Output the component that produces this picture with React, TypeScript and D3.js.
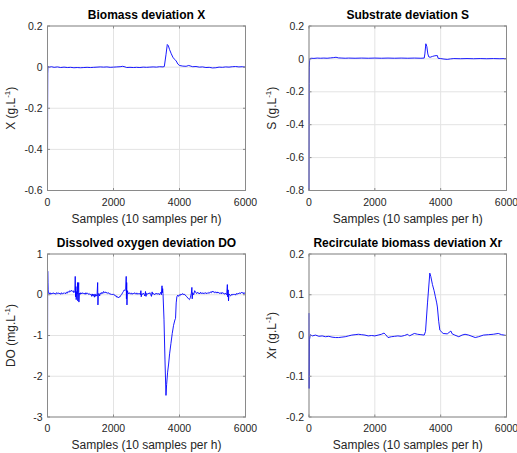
import {useEffect, useRef} from "react";
import * as d3 from "d3";

type Pt = [number, number];

// samples axis
const xTicks = [0, 2000, 4000, 6000];

// y ticks of each panel
const biomassTicks = [-0.6, -0.4, -0.2, 0, 0.2];
const substrateTicks = [-0.8, -0.6, -0.4, -0.2, 0, 0.2];
const oxygenTicks = [-3, -2, -1, 0, 1];
const recircTicks = [-0.2, -0.1, 0, 0.1, 0.2];

// deviation X (g/L) vs sample
const biomass: Pt[] = [
    [0, -0.5], [4, -0.2], [8, -0.03], [15, 0.002], [60, 0], [120, 0.002], [200, -0.001], [300, 0.001],
    [400, -0.002], [500, 0], [600, -0.002], [700, -0.001], [800, -0.003], [900, -0.002], [1000, -0.003],
    [1100, -0.002], [1200, -0.001], [1300, -0.002], [1400, -0.001], [1500, 0], [1600, 0.001], [1700, 0],
    [1800, 0.001], [1900, -0.001], [2000, 0], [2100, 0.001], [2200, 0.002], [2280, 0.004], [2350, 0.001],
    [2400, -0.002], [2500, -0.001], [2600, -0.002], [2700, -0.001], [2800, -0.002], [2900, 0], [3000, -0.001],
    [3100, 0], [3200, 0.001], [3300, 0], [3400, 0.002], [3500, 0.001], [3540, 0.003], [3590, 0.06],
    [3630, 0.11], [3660, 0.105], [3700, 0.085], [3750, 0.065], [3800, 0.048], [3850, 0.038], [3900, 0.03],
    [3950, 0.015], [4000, 0.008], [4100, 0.005], [4200, 0.004], [4280, 0.008], [4320, 0.006], [4400, 0.002],
    [4500, 0.003], [4600, 0], [4700, 0.001], [4800, -0.002], [4900, -0.001], [5000, -0.004], [5100, -0.003],
    [5200, 0], [5300, -0.001], [5400, 0.001], [5500, 0], [5600, 0.002], [5700, 0.003], [5800, 0.001],
    [5900, 0.002], [6000, 0]
];

// deviation S (g/L)
const substrate: Pt[] = [
    [0, -0.8], [3, -0.4], [6, -0.15], [10, -0.05], [18, -0.01], [30, 0.002], [60, 0.004], [150, 0.003],
    [250, 0.005], [350, 0.004], [450, 0.005], [550, 0.004], [650, 0.006], [750, 0.008], [820, 0.01],
    [900, 0.006], [1000, 0.005], [1100, 0.004], [1200, 0.005], [1400, 0.004], [1600, 0.005], [1800, 0.004],
    [2000, 0.005], [2200, 0.004], [2400, 0.005], [2600, 0.004], [2800, 0.005], [3000, 0.004], [3200, 0.005],
    [3400, 0.004], [3500, 0.005], [3520, 0.03], [3550, 0.092], [3580, 0.075], [3610, 0.03], [3640, 0.012],
    [3680, 0.01], [3750, 0.015], [3800, 0.018], [3860, 0.02], [3900, 0.02], [3920, 0.004], [4000, 0.002],
    [4100, -0.001], [4200, -0.003], [4300, 0], [4400, 0.002], [4600, 0.001], [4800, 0.002], [5000, 0.001],
    [5200, 0.002], [5400, 0.001], [5600, 0.002], [5800, 0.001], [6000, 0.002]
];

// deviation DO (mg/L)
const oxygen: Pt[] = [
    [0, -2.0], [6, 0.58], [12, 0.3], [18, 0.12], [25, 0.06], [50, 0.02], [75, 0.05], [100, 0.01], [125, 0.04],
    [150, 0.02], [175, 0.05], [200, 0.02], [225, 0.04], [250, 0.01], [275, 0.05], [300, 0.03], [325, 0.05],
    [350, 0.02], [375, 0.04], [400, 0.01], [425, 0.05], [450, 0.02], [475, 0.04], [500, 0.03], [525, 0.05],
    [550, 0.02], [575, 0.06], [600, 0.04], [625, 0.08], [650, 0.06], [675, 0.1], [700, 0.08], [725, 0.11],
    [750, 0.08], [775, 0.1], [800, 0.05], [815, 0.09], [830, 0.1], [840, 0.45], [850, -0.05], [860, 0.2],
    [870, -0.12], [885, 0.08], [900, 0.02], [910, 0.3], [918, -0.15], [930, 0.05], [945, 0.3], [952, -0.18],
    [965, 0.04], [990, 0.01], [1010, 0.05], [1040, 0.02], [1065, 0.05], [1090, 0.02], [1115, 0.04],
    [1140, 0.01], [1165, 0.05], [1190, 0.02], [1215, 0.04], [1240, 0.01], [1265, 0.03], [1290, 0.0],
    [1315, 0.02], [1340, -0.04], [1360, 0.02], [1380, -0.03], [1400, 0.01], [1420, -0.06], [1440, 0.02],
    [1460, -0.04], [1480, 0.0], [1500, -0.03], [1520, 0.3], [1528, -0.25], [1540, 0.02], [1560, 0.03],
    [1580, -0.03], [1600, 0.04], [1625, 0.02], [1650, 0.06], [1675, 0.03], [1700, 0.08], [1725, 0.05],
    [1750, 0.07], [1775, 0.04], [1800, 0.06], [1825, 0.03], [1850, 0.05], [1875, 0.02], [1900, 0.03],
    [1925, 0.0], [1950, 0.02], [1975, 0.0], [2000, 0.02], [2025, -0.01], [2050, -0.03], [2075, -0.02],
    [2100, -0.06], [2125, -0.05], [2150, -0.08], [2175, -0.05], [2200, -0.05], [2225, -0.01], [2250, 0.01],
    [2275, 0.05], [2300, 0.08], [2325, 0.12], [2350, 0.1], [2370, 0.13], [2385, 0.45], [2392, -0.1],
    [2400, 0.3], [2408, -0.25], [2420, 0.1], [2440, 0.05], [2465, 0.02], [2490, 0.05], [2515, 0.02],
    [2540, 0.04], [2565, 0.01], [2590, 0.04], [2615, 0.02], [2640, 0.05], [2665, 0.02], [2690, 0.04],
    [2715, 0.01], [2740, 0.04], [2765, 0.02], [2790, 0.03], [2815, 0.0], [2830, 0.1], [2840, -0.05],
    [2860, 0.03], [2885, 0.01], [2910, 0.04], [2935, 0.0], [2950, -0.03], [2970, 0.08], [2985, -0.04],
    [3000, 0.03], [3025, 0.01], [3050, 0.04], [3075, 0.02], [3100, 0.05], [3125, 0.01], [3150, -0.04],
    [3170, 0.07], [3190, 0.01], [3215, 0.03], [3240, 0.0], [3265, 0.03], [3290, 0.01], [3315, 0.04],
    [3340, 0.01], [3365, 0.03], [3390, 0.0], [3410, 0.03], [3430, 0.06], [3450, 0.0], [3470, 0.22],
    [3480, 0.05], [3490, 0.15], [3500, 0.03], [3530, -0.6], [3560, -1.6], [3590, -2.47], [3610, -2.2],
    [3640, -1.9], [3670, -1.7], [3700, -1.45], [3740, -1.2], [3780, -0.95], [3820, -0.75], [3860, -0.62],
    [3880, -0.58], [3900, -0.2], [3920, -0.05], [3945, -0.01], [3970, -0.04], [3995, 0.0], [4020, -0.02],
    [4045, 0.02], [4070, 0.0], [4095, 0.03], [4120, 0.0], [4145, 0.02], [4170, -0.01], [4200, -0.03],
    [4225, -0.05], [4250, -0.08], [4275, -0.1], [4300, -0.12], [4330, -0.07], [4360, 0.04], [4375, 0.18],
    [4385, -0.1], [4400, 0.05], [4430, 0.0], [4460, 0.1], [4490, 0.06], [4515, 0.03], [4540, 0.06],
    [4565, 0.03], [4590, 0.05], [4615, 0.02], [4640, 0.06], [4665, 0.03], [4690, 0.05], [4715, 0.02],
    [4740, 0.05], [4765, 0.03], [4790, 0.05], [4815, 0.02], [4840, 0.05], [4865, 0.03], [4890, 0.06],
    [4915, 0.04], [4940, 0.07], [4965, 0.05], [4990, 0.09], [5015, 0.06], [5040, 0.08], [5065, 0.05],
    [5090, 0.07], [5115, 0.04], [5140, 0.07], [5165, 0.04], [5190, 0.06], [5215, 0.03], [5240, 0.05],
    [5265, 0.02], [5290, 0.06], [5315, 0.03], [5340, 0.04], [5365, 0.01], [5390, 0.04], [5415, 0.01],
    [5430, 0.0], [5450, 0.25], [5460, -0.05], [5475, 0.12], [5485, -0.15], [5500, 0.02], [5525, -0.01],
    [5550, -0.03], [5575, 0.01], [5600, -0.01], [5625, 0.02], [5650, 0.0], [5675, 0.02], [5700, -0.01],
    [5725, 0.03], [5750, 0.01], [5775, 0.04], [5800, 0.02], [5825, 0.05], [5850, 0.03], [5875, 0.06],
    [5900, 0.04], [5925, 0.06], [5950, 0.02], [5975, 0.05], [6000, 0.04]
];

// deviation Xr (g/L)
const recirc: Pt[] = [
    [0, 0.055], [3, -0.13], [15, -0.01], [40, 0.002], [100, -0.001], [200, 0.001], [300, -0.002],
    [400, -0.001], [500, -0.003], [600, -0.002], [700, -0.004], [800, -0.005], [900, -0.005], [1000, -0.004],
    [1100, -0.003], [1200, -0.001], [1300, 0.001], [1400, 0.002], [1500, 0.003], [1600, 0.002], [1700, 0.001],
    [1800, -0.001], [1900, 0], [2000, -0.001], [2100, 0.001], [2200, 0.003], [2280, 0.006], [2330, 0.002],
    [2400, -0.005], [2500, -0.003], [2600, -0.002], [2700, -0.001], [2800, -0.002], [2900, 0], [3000, 0.003],
    [3050, -0.001], [3100, 0.001], [3200, 0.005], [3300, 0.003], [3400, 0.002], [3500, 0.001], [3540, 0.01],
    [3600, 0.08], [3670, 0.153], [3700, 0.145], [3750, 0.125], [3800, 0.11], [3840, 0.095], [3880, 0.08],
    [3900, 0.07], [3940, 0.035], [3975, 0.013], [4075, 0.005], [4200, 0.004], [4310, 0.011], [4350, 0.004],
    [4430, 0.001], [4550, -0.003], [4650, 0.001], [4740, 0.003], [4850, 0.001], [4950, -0.002],
    [5050, -0.005], [5150, -0.003], [5300, 0.001], [5450, 0.002], [5600, 0.003], [5750, 0.005],
    [5850, 0.002], [6000, 0]
];

const font = "'Liberation Sans', Arial, Helvetica, sans-serif";
const ink = "#262626";

const L = {left: 47.5, right: 245.5}, R = {left: 309, right: 506.5};
const T = {top: 26, bottom: 190.5}, B = {top: 254, bottom: 417};

const panels = [
    {title: "Biomass deviation X", name: "X", unit: "g", ticks: biomassTicks, data: biomass, ...L, ...T},
    {title: "Substrate deviation S", name: "S", unit: "g", ticks: substrateTicks, data: substrate, ...R, ...T},
    {title: "Dissolved oxygen deviation DO", name: "DO", unit: "mg", ticks: oxygenTicks, data: oxygen, ...L, ...B},
    {title: "Recirculate biomass deviation Xr", name: "Xr", unit: "g", ticks: recircTicks, data: recirc, ...R, ...B},
];

function drawPanel(svg: any, p: any) {
    const g = svg.append("g");
    const x = d3.scaleLinear().domain([0, 6000]).range([p.left, p.right]);
    const y = d3.scaleLinear().domain([p.ticks[0], p.ticks[p.ticks.length - 1]]).range([p.bottom, p.top]);

    g.append("rect")
        .attr("x", p.left).attr("y", p.top)
        .attr("width", p.right - p.left).attr("height", p.bottom - p.top)
        .attr("fill", "#fff");

    // grid
    g.selectAll(".gx").data(xTicks).enter().append("line")
        .attr("x1", (d: number) => x(d)).attr("x2", (d: number) => x(d))
        .attr("y1", p.top).attr("y2", p.bottom)
        .attr("stroke", "#e3e3e3").attr("stroke-width", 1);
    g.selectAll(".gy").data(p.ticks).enter().append("line")
        .attr("x1", p.left).attr("x2", p.right)
        .attr("y1", (d: number) => y(d)).attr("y2", (d: number) => y(d))
        .attr("stroke", "#e3e3e3").attr("stroke-width", 1);

    // series
    const line = d3.line<Pt>().x(d => x(d[0])).y(d => y(d[1]));
    g.append("path")
        .attr("d", line(p.data))
        .attr("fill", "none")
        .attr("stroke", "#0000ff")
        .attr("stroke-width", 0.9)
        .attr("stroke-linejoin", "round");

    // box + inward ticks on all sides
    g.append("rect")
        .attr("x", p.left).attr("y", p.top)
        .attr("width", p.right - p.left).attr("height", p.bottom - p.top)
        .attr("fill", "none").attr("stroke", "#8a8a8a").attr("stroke-width", 1);
    const tl = 2.5;
    xTicks.forEach(t => {
        g.append("line").attr("x1", x(t)).attr("x2", x(t)).attr("y1", p.bottom).attr("y2", p.bottom - tl).attr("stroke", "#8a8a8a");
        g.append("line").attr("x1", x(t)).attr("x2", x(t)).attr("y1", p.top).attr("y2", p.top + tl).attr("stroke", "#8a8a8a");
    });
    p.ticks.forEach((t: number) => {
        g.append("line").attr("x1", p.left).attr("x2", p.left + tl).attr("y1", y(t)).attr("y2", y(t)).attr("stroke", "#8a8a8a");
        g.append("line").attr("x1", p.right).attr("x2", p.right - tl).attr("y1", y(t)).attr("y2", y(t)).attr("stroke", "#8a8a8a");
    });

    // tick labels
    g.selectAll(".xl").data(xTicks).enter().append("text")
        .attr("x", (d: number) => x(d)).attr("y", p.bottom + 15)
        .attr("text-anchor", "middle")
        .attr("font-size", 10.5).attr("fill", ink)
        .text((d: number) => String(d));
    g.selectAll(".yl").data(p.ticks).enter().append("text")
        .attr("x", p.left - 5).attr("y", (d: number) => y(d))
        .attr("dy", "0.35em")
        .attr("text-anchor", "end")
        .attr("font-size", 10.5).attr("fill", ink)
        .text((d: number) => String(d));

    // titles
    g.append("text")
        .attr("x", (p.left + p.right) / 2).attr("y", p.top - 7)
        .attr("text-anchor", "middle")
        .attr("font-size", 12).attr("font-weight", "bold").attr("fill", "#000")
        .text(p.title);
    g.append("text")
        .attr("x", (p.left + p.right) / 2).attr("y", p.bottom + 32)
        .attr("text-anchor", "middle")
        .attr("font-size", 12).attr("fill", ink)
        .text("Samples (10 samples per h)");

    const yl = g.append("text")
        .attr("transform", `translate(${p.left - 33},${(p.top + p.bottom) / 2}) rotate(-90)`)
        .attr("text-anchor", "middle")
        .attr("font-size", 12).attr("fill", ink);
    yl.append("tspan").text(`${p.name} (${p.unit}.L`);
    yl.append("tspan").attr("dy", -5).attr("font-size", 8).text("-1");
    yl.append("tspan").attr("dy", 5).text(")");
}

export default function App() {
    const ref = useRef<SVGSVGElement>(null);

    useEffect(() => {
        const svg = d3.select(ref.current);
        svg.selectAll("*").remove();
        panels.forEach(p => drawPanel(svg, p));
    }, []);

    return <svg ref={ref} width={517} height={453}
                style={{position: "absolute", left: 0, top: 0, background: "#fff", fontFamily: font}}/>;
}
